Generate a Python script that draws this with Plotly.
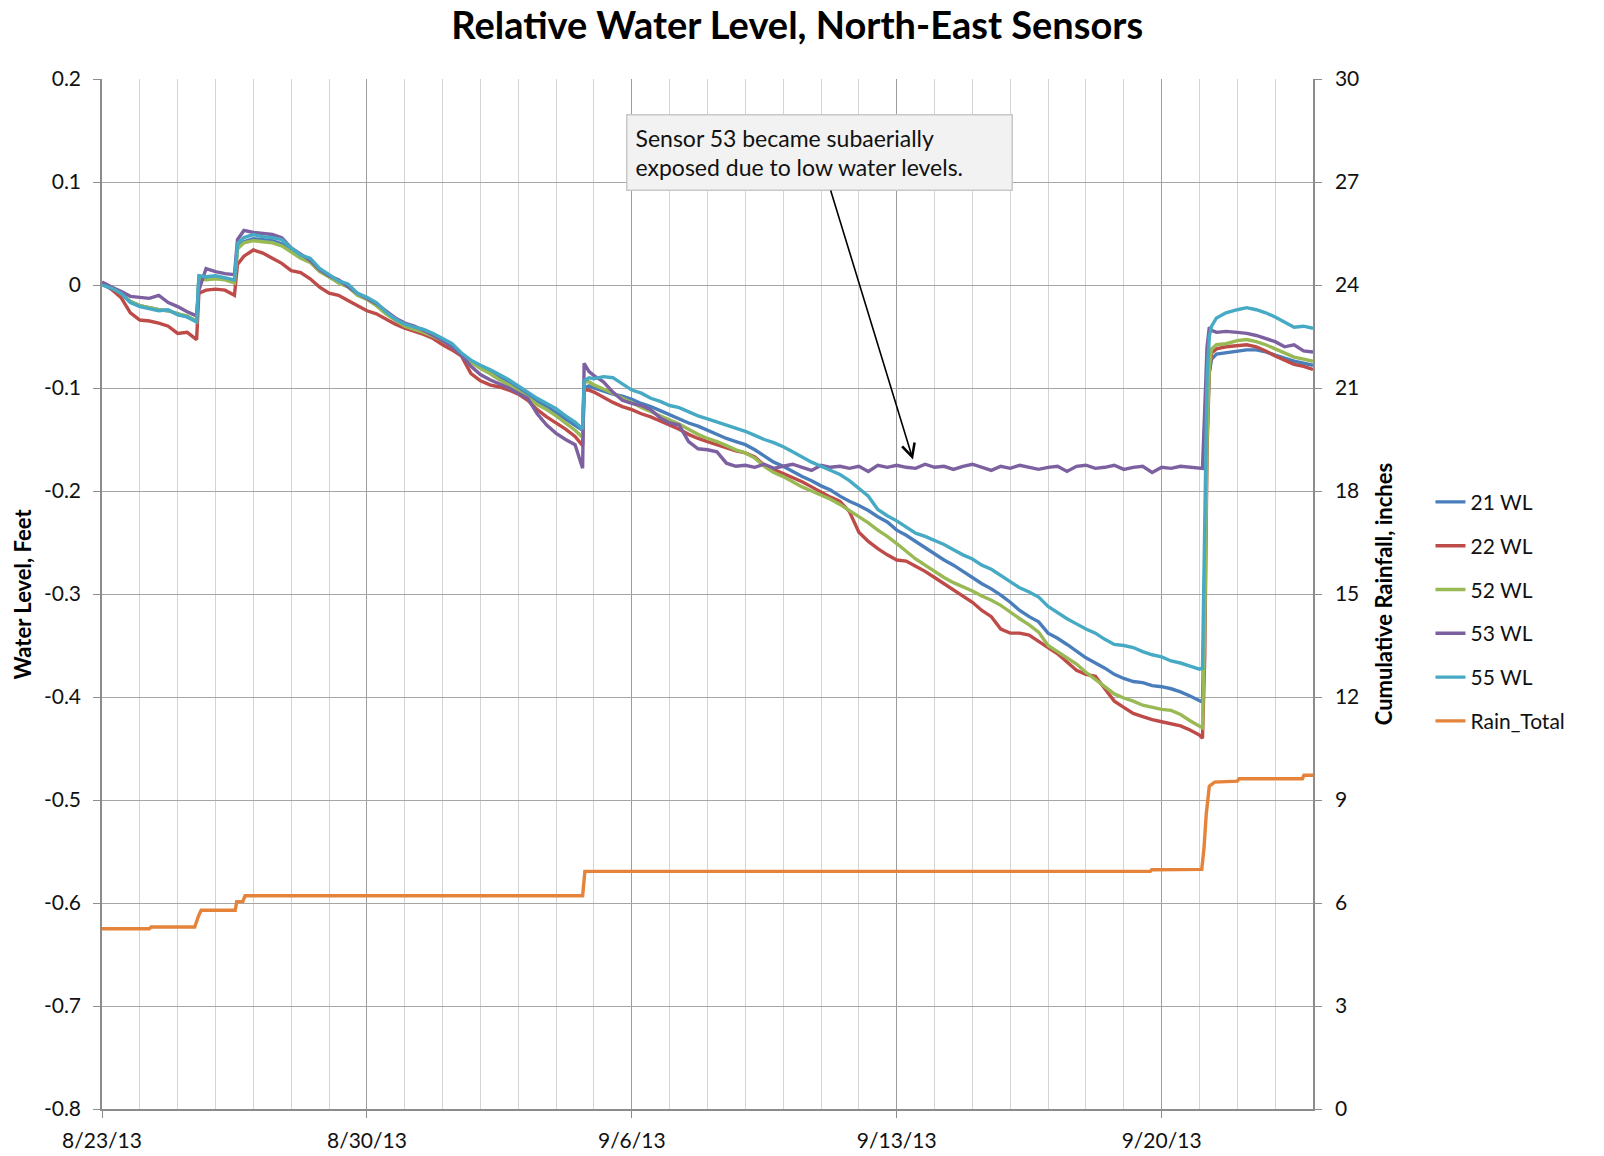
import pandas as pd
import plotly.graph_objects as go

START = pd.Timestamp("2013-08-23")
N_DAYS = 32

# Sample offsets within each day; extra samples bracket the sudden level changes
DEFAULT_FRACS = [0.0, 0.25, 0.5, 0.75]
SPECIAL_FRACS = {
    2: [0.0, 0.25, 0.5, 0.56, 0.75],
    3: [0.0, 0.25, 0.5, 0.58, 0.75],
    12: [0.0, 0.25, 0.5, 0.70, 0.74, 0.87],
    29: [0.0, 0.08, 0.14, 0.20, 0.26, 0.32, 0.45, 0.70],
}

# Relative water level (feet), one row per day
wl_21 = [
    0.001, -0.004, -0.009, -0.016,
    -0.020, -0.022, -0.024, -0.025,
    -0.028, -0.031, -0.035, 0.006, 0.006,
    0.007, 0.006, 0.003, 0.036, 0.042,
    0.045, 0.044, 0.043, 0.040,
    0.033, 0.027, 0.023, 0.014,
    0.008, 0.003, -0.001, -0.009,
    -0.013, -0.018, -0.027, -0.034,
    -0.039, -0.042, -0.045, -0.049,
    -0.053, -0.059, -0.067, -0.074,
    -0.080, -0.085, -0.090, -0.094,
    -0.100, -0.106, -0.113, -0.118,
    -0.124, -0.130, -0.136, -0.141, -0.100, -0.098,
    -0.100, -0.103, -0.106, -0.108,
    -0.111, -0.115, -0.118, -0.122,
    -0.126, -0.130, -0.134, -0.137,
    -0.141, -0.145, -0.149, -0.152,
    -0.155, -0.160, -0.166, -0.172,
    -0.176, -0.181, -0.186, -0.190,
    -0.195, -0.199, -0.205, -0.210,
    -0.214, -0.219, -0.225, -0.230,
    -0.238, -0.243, -0.249, -0.255,
    -0.261, -0.267, -0.272, -0.278,
    -0.284, -0.290, -0.295, -0.301,
    -0.308, -0.316, -0.322, -0.327,
    -0.338, -0.343, -0.349, -0.356,
    -0.362, -0.367, -0.372, -0.378,
    -0.382, -0.385, -0.386, -0.389,
    -0.390, -0.392, -0.395, -0.399,
    -0.404, -0.405, -0.300, -0.130, -0.085, -0.072, -0.067, -0.066,
    -0.064, -0.063, -0.063, -0.065,
    -0.068, -0.071, -0.074, -0.076,
    -0.078,
]

wl_22 = [
    0.002, -0.004, -0.012, -0.027,
    -0.034, -0.035, -0.037, -0.040,
    -0.047, -0.046, -0.053, -0.008, -0.005,
    -0.004, -0.005, -0.010, 0.020, 0.028,
    0.034, 0.031, 0.026, 0.021,
    0.014, 0.012, 0.006, -0.002,
    -0.008, -0.010, -0.015, -0.020,
    -0.025, -0.028, -0.033, -0.038,
    -0.042, -0.045, -0.048, -0.052,
    -0.058, -0.063, -0.069, -0.086,
    -0.093, -0.097, -0.099, -0.102,
    -0.106, -0.112, -0.121, -0.128,
    -0.134, -0.140, -0.147, -0.156, -0.102, -0.102,
    -0.104, -0.109, -0.114, -0.118,
    -0.121, -0.125, -0.128, -0.132,
    -0.136, -0.140, -0.145, -0.149,
    -0.152, -0.155, -0.158, -0.161,
    -0.163, -0.167, -0.175, -0.179,
    -0.183, -0.187, -0.191, -0.196,
    -0.201, -0.206, -0.210, -0.220,
    -0.240, -0.249, -0.256, -0.262,
    -0.267, -0.268, -0.273, -0.278,
    -0.284, -0.290, -0.296, -0.302,
    -0.308, -0.316, -0.322, -0.334,
    -0.338, -0.338, -0.340, -0.346,
    -0.352, -0.358, -0.366, -0.374,
    -0.378, -0.380, -0.392, -0.404,
    -0.410, -0.416, -0.419, -0.422,
    -0.424, -0.426, -0.428, -0.432,
    -0.437, -0.440, -0.360, -0.160, -0.085, -0.066, -0.062, -0.060,
    -0.059, -0.058, -0.060, -0.064,
    -0.069, -0.073, -0.077, -0.079,
    -0.082,
]

wl_52 = [
    0.002, -0.002, -0.008, -0.016,
    -0.020, -0.022, -0.024, -0.025,
    -0.028, -0.030, -0.035, 0.006, 0.005,
    0.006, 0.005, 0.002, 0.035, 0.041,
    0.043, 0.042, 0.041, 0.038,
    0.032, 0.026, 0.022, 0.013,
    0.008, 0.002, -0.002, -0.010,
    -0.014, -0.020, -0.028, -0.034,
    -0.040, -0.043, -0.046, -0.050,
    -0.054, -0.060, -0.068, -0.075,
    -0.081, -0.086, -0.092, -0.097,
    -0.103, -0.109, -0.116, -0.121,
    -0.127, -0.134, -0.141, -0.148, -0.094, -0.094,
    -0.097, -0.101, -0.105, -0.110,
    -0.114, -0.119, -0.123, -0.127,
    -0.131, -0.135, -0.140, -0.145,
    -0.149, -0.152, -0.156, -0.160,
    -0.163, -0.168, -0.176, -0.182,
    -0.186, -0.191, -0.196, -0.200,
    -0.204, -0.208, -0.213, -0.219,
    -0.225, -0.231, -0.238, -0.244,
    -0.251, -0.259, -0.266, -0.272,
    -0.278, -0.284, -0.289, -0.293,
    -0.297, -0.302, -0.306, -0.311,
    -0.318, -0.324, -0.330, -0.337,
    -0.350, -0.356, -0.362, -0.368,
    -0.376, -0.383, -0.390, -0.397,
    -0.401, -0.404, -0.408, -0.410,
    -0.412, -0.413, -0.417, -0.423,
    -0.428, -0.430, -0.330, -0.150, -0.080, -0.062, -0.058, -0.057,
    -0.054, -0.053, -0.055, -0.058,
    -0.062, -0.066, -0.070, -0.072,
    -0.074,
]

wl_53 = [
    0.003, -0.002, -0.006, -0.011,
    -0.012, -0.013, -0.010, -0.017,
    -0.021, -0.026, -0.030, -0.005, 0.016,
    0.013, 0.011, 0.010, 0.044, 0.053,
    0.051, 0.050, 0.049, 0.046,
    0.036, 0.030, 0.024, 0.015,
    0.009, 0.005, -0.002, -0.008,
    -0.013, -0.018, -0.025, -0.032,
    -0.037, -0.040, -0.044, -0.049,
    -0.054, -0.060, -0.068, -0.079,
    -0.087, -0.092, -0.096, -0.100,
    -0.105, -0.110, -0.125, -0.136,
    -0.144, -0.150, -0.155, -0.178, -0.076, -0.084,
    -0.088, -0.094, -0.104, -0.112,
    -0.115, -0.117, -0.121, -0.129,
    -0.134, -0.136, -0.152, -0.159,
    -0.160, -0.162, -0.173, -0.176,
    -0.175, -0.177, -0.174, -0.178,
    -0.176, -0.174, -0.177, -0.180,
    -0.175, -0.177, -0.176, -0.178,
    -0.176, -0.181, -0.175, -0.177,
    -0.175, -0.177, -0.178, -0.174,
    -0.177, -0.176, -0.179, -0.176,
    -0.174, -0.177, -0.180, -0.176,
    -0.178, -0.175, -0.177, -0.179,
    -0.177, -0.176, -0.181, -0.176,
    -0.175, -0.178, -0.177, -0.175,
    -0.179, -0.177, -0.176, -0.182,
    -0.177, -0.178, -0.176, -0.177,
    -0.178, -0.178, -0.120, -0.060, -0.041, -0.044, -0.046, -0.045,
    -0.046, -0.047, -0.049, -0.052,
    -0.055, -0.060, -0.058, -0.064,
    -0.065,
]

wl_55 = [
    0.000, -0.003, -0.008, -0.017,
    -0.021, -0.023, -0.025, -0.024,
    -0.029, -0.031, -0.036, 0.009, 0.008,
    0.009, 0.007, 0.005, 0.040, 0.046,
    0.049, 0.047, 0.046, 0.044,
    0.036, 0.029, 0.026, 0.016,
    0.010, 0.004, 0.001, -0.008,
    -0.012, -0.017, -0.026, -0.033,
    -0.038, -0.041, -0.043, -0.047,
    -0.052, -0.057, -0.066, -0.073,
    -0.078, -0.082, -0.087, -0.092,
    -0.098, -0.104, -0.110, -0.115,
    -0.120, -0.127, -0.133, -0.140, -0.093, -0.090,
    -0.091, -0.089, -0.090, -0.096,
    -0.102, -0.105, -0.110, -0.113,
    -0.117, -0.119, -0.123, -0.127,
    -0.130, -0.133, -0.136, -0.139,
    -0.142, -0.146, -0.150, -0.153,
    -0.157, -0.162, -0.167, -0.172,
    -0.176, -0.180, -0.184, -0.190,
    -0.198, -0.205, -0.218, -0.224,
    -0.229, -0.235, -0.241, -0.244,
    -0.248, -0.252, -0.257, -0.262,
    -0.266, -0.272, -0.276, -0.282,
    -0.288, -0.294, -0.298, -0.303,
    -0.312, -0.318, -0.324, -0.329,
    -0.334, -0.338, -0.344, -0.349,
    -0.350, -0.352, -0.356, -0.359,
    -0.361, -0.365, -0.367, -0.370,
    -0.373, -0.372, -0.200, -0.090, -0.050, -0.040, -0.032, -0.027,
    -0.024, -0.022, -0.024, -0.027,
    -0.031, -0.036, -0.041, -0.040,
    -0.042,
]

# Cumulative rainfall (inches) at the days (from start) where it changes
rain_days = [0, 1.25, 1.30, 2.45, 2.55, 2.62, 3.52, 3.56, 3.72, 3.78,
             12.70, 12.76, 27.70, 27.74, 29.06, 29.12, 29.18, 29.26, 29.40,
             30.00, 30.05, 31.72, 31.76, 32.0]
rain_total = [5.25, 5.25, 5.30, 5.30, 5.62, 5.79, 5.79, 6.04, 6.04, 6.21,
              6.21, 6.92, 6.92, 6.97, 6.98, 7.60, 8.60, 9.40, 9.52,
              9.55, 9.62, 9.62, 9.72, 9.72]

left_ticks = [-0.8, -0.7, -0.6, -0.5, -0.4, -0.3, -0.2, -0.1, 0, 0.1, 0.2]
left_labels = ["-0.8", "-0.7", "-0.6", "-0.5", "-0.4", "-0.3", "-0.2", "-0.1", "0", "0.1", "0.2"]
right_ticks = [0, 3, 6, 9, 12, 15, 18, 21, 24, 27, 30]

series = [
    ("21 WL", wl_21, "#4A7EBB"),
    ("22 WL", wl_22, "#BE4B48"),
    ("52 WL", wl_52, "#98B954"),
    ("53 WL", wl_53, "#7D60A0"),
    ("55 WL", wl_55, "#46AAC5"),
]

day_offsets = []
for d in range(N_DAYS):
    for f in SPECIAL_FRACS.get(d, DEFAULT_FRACS):
        day_offsets.append(d + f)
day_offsets.append(float(N_DAYS))
times = START + pd.to_timedelta(day_offsets, unit="D")
rain_times = START + pd.to_timedelta(rain_days, unit="D")

FONT = "Lato, Carlito, Calibri, sans-serif"

fig = go.Figure()
for name, vals, color in series:
    fig.add_trace(go.Scatter(
        x=times, y=vals, mode="lines", name=name, legendgroup=name,
        line=dict(color=color, width=3.4),
    ))
fig.add_trace(go.Scatter(
    x=rain_times, y=rain_total, mode="lines", name="Rain_Total",
    legendgroup="Rain_Total", yaxis="y2",
    line=dict(color="#E5833A", width=3.4),
))

DAY_MS = 86400000
fig.update_layout(
    width=1604, height=1156,
    margin=dict(l=102, r=291, t=79, b=47),
    paper_bgcolor="white", plot_bgcolor="white",
    font=dict(family=FONT, size=21, color="#111111"),
    title=dict(
        text="<b>Relative Water Level, North-East Sensors</b>",
        font=dict(family=FONT, size=38, color="#000000"),
        x=0.497, xanchor="center", xref="container",
        y=1 - 26 / 1156, yanchor="middle", yref="container",
    ),
    xaxis=dict(
        type="date",
        range=[START, START + pd.Timedelta(days=N_DAYS)],
        tick0=START, dtick=7 * DAY_MS, tickformat="%-m/%-d/%y",
        showgrid=True, gridcolor="#9c9c9c", gridwidth=1,
        minor=dict(dtick=DAY_MS, showgrid=True, gridcolor="#d4d4d4", gridwidth=1, ticks=""),
        ticks="outside", ticklen=7, tickcolor="#8c8c8c",
        showline=True, linecolor="#8c8c8c", linewidth=1.5,
        zeroline=False, automargin=False,
        ticklabelstandoff=5,
        tickfont=dict(size=21),
    ),
    yaxis=dict(
        range=[-0.8, 0.2], tickvals=left_ticks, ticktext=left_labels,
        showgrid=True, gridcolor="#a6a6a6", gridwidth=1,
        ticks="outside", ticklen=7, tickcolor="#8c8c8c",
        showline=True, linecolor="#8c8c8c", linewidth=1.5,
        zeroline=False, automargin=False,
        ticklabelstandoff=8,
        tickfont=dict(size=21),
    ),
    yaxis2=dict(
        range=[0, 30], tickvals=right_ticks, overlaying="y", side="right",
        showgrid=False, ticks="outside", ticklen=7, tickcolor="#8c8c8c",
        showline=True, linecolor="#8c8c8c", linewidth=1.5,
        zeroline=False, automargin=False,
        ticklabelstandoff=9,
        tickfont=dict(size=21),
    ),
    legend=dict(
        x=1.097, xanchor="left", y=0.609, yanchor="top",
        font=dict(size=21), tracegroupgap=13.5,
        bgcolor="rgba(0,0,0,0)", itemwidth=30,
    ),
    showlegend=True,
)

fig.add_annotation(
    text="<b>Water Level, Feet</b>", textangle=-90,
    xref="paper", yref="paper", x=-0.0657, y=0.5,
    xanchor="center", yanchor="middle", showarrow=False,
    font=dict(size=22, color="#000000"),
)
fig.add_annotation(
    text="<b>Cumulative Rainfall, inches</b>", textangle=-90,
    xref="paper", yref="paper", x=1.058, y=0.5,
    xanchor="center", yanchor="middle", showarrow=False,
    font=dict(size=22, color="#000000"),
)

# Callout pointing at the flat-lined 53 WL record
fig.add_annotation(
    text="Sensor 53 became subaerially<br>exposed due to low water levels.",
    align="left", x=START + pd.Timedelta(days=21.43), y=-0.1695,
    ax=START + pd.Timedelta(days=18.95), ay=0.1285,
    axref="x", ayref="y", xref="x", yref="y",
    showarrow=True, arrowhead=5, arrowsize=1.6, arrowwidth=1.6, arrowcolor="#000000",
    bgcolor="#F2F2F2", bordercolor="#C8C8C8", borderwidth=1.5, borderpad=8,
    width=368, font=dict(size=23, color="#111111"),
)

fig.write_html("out.html")
